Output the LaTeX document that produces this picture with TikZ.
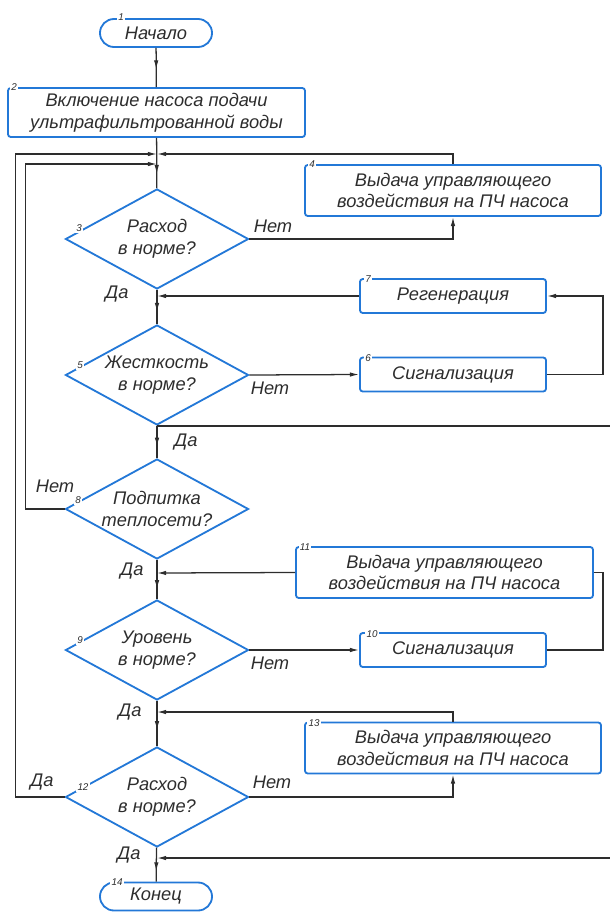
\documentclass[tikz,border=0pt]{standalone}
\usepackage{fontspec}
\setmainfont{Liberation Sans}
\usetikzlibrary{arrows.meta,shapes.geometric,decorations.markings}
\definecolor{blockblue}{RGB}{35,120,215}
\definecolor{inkgray}{RGB}{45,45,45}

\begin{document}
\begin{tikzpicture}[
  x=0.025cm, y=-0.025cm,
  >={Latex[length=6.5pt,width=3.2pt]},
  every node/.style={font=\itshape\fontsize{13}{15.5}\selectfont, text=inkgray},
  line/.style={draw=inkgray, line width=0.9pt},
  block/.style={draw=blockblue, line width=1.3pt, rounded corners=2pt,
                align=center, inner sep=0pt},
  wide/.style={block, minimum width=7.4cm, minimum height=1.275cm},
  short/.style={block, minimum width=4.65cm, minimum height=0.85cm},
  term/.style={draw=blockblue, line width=1.3pt, rounded corners=0.35cm,
               minimum width=2.8cm, minimum height=0.7cm, inner sep=0pt},
  decision/.style={diamond, draw=blockblue, line width=1.3pt, shape aspect=1.8,
                   minimum width=4.575cm, minimum height=2.5cm,
                   inner sep=0pt, align=center},
  num/.style={font=\itshape\fontsize{7}{8}\selectfont, fill=white, inner sep=0.8pt},
  midarrow/.style={postaction={decorate},
                   decoration={markings, mark=at position #1 with {\arrow{>}}}},
  midarrow/.default=0.5,
]
  \useasboundingbox (0,0) rectangle (610,913);

  % Main column
  \node[term] (start) at (156,33) {Начало};
  \node[block, minimum width=7.425cm, minimum height=1.225cm] (pump)
    at (156.5,112.5) {Включение насоса подачи\\ультрафильтрованной воды};
  \node[decision] (flow) at (157,239) {Расход\\в норме?};
  \node[decision] (hard) at (157,375) {Жесткость\\в норме?};
  \node[decision] (feed) at (157,509) {Подпитка\\теплосети?};
  \node[decision] (level) at (157,650) {Уровень\\в норме?};
  \node[decision] (flowb) at (157,797) {Расход\\в норме?};
  \node[term] (stop) at (156,896.5) {Конец};

  % Side blocks
  \node[wide] (ctrla) at (453,190.5) {Выдача управляющего\\воздействия на ПЧ насоса};
  \node[short] (regen) at (453,296) {Регенерация};
  \node[short] (alarma) at (453,374.5) {Сигнализация};
  \node[wide, minimum width=7.425cm] (ctrlb) at (444.5,572.5)
    {Выдача управляющего\\воздействия на ПЧ насоса};
  \node[short] (alarmb) at (453,650) {Сигнализация};
  \node[wide] (ctrlc) at (453,748) {Выдача управляющего\\воздействия на ПЧ насоса};

  % Block numbers
  \node[num] (n1) at (121,17) {1};
  \node[num] (n2) at (14,87) {2};
  \node[num] (n3) at (79,228) {3};
  \node[num] (n4) at (312,164) {4};
  \node[num] (n5) at (80,365) {5};
  \node[num] (n6) at (368,358) {6};
  \node[num] (n7) at (368,279) {7};
  \node[num] (n8) at (78,500) {8};
  \node[num] (n9) at (80,640) {9};
  \node[num] (n10) at (372,634) {10};
  \node[num] (n11) at (305,547) {11};
  \node[num] (n12) at (83,787) {12};
  \node[num] (n13) at (314,723) {13};
  \node[num] (n14) at (117,882) {14};

  % Junctions on the main column
  \coordinate (jtop) at (157,154);
  \coordinate (jloop) at (157,164);
  \coordinate (jregen) at (157,296);
  \coordinate (jctrlb) at (157,573);
  \coordinate (jctrlc) at (157,712);
  \coordinate (jend) at (157,858);
  \coordinate (edgea) at (610,425);
  \coordinate (edgeb) at (610,858);

  % Connectors
  \draw[line, midarrow=0.55] (start) -- (pump);
  \draw[line, midarrow=0.72] (pump) -- (flow);
  \draw[line, midarrow=0.65] (flow) -- (hard);
  \draw[line, midarrow=0.65] (hard) -- (feed);
  \draw[line, midarrow=0.75] (feed) -- (level);
  \draw[line, midarrow=0.65] (level) -- (flowb);
  \draw[line, midarrow=0.7] (flowb) -- (stop);

  \draw[line, ->] (flow.east) -| (ctrla.south);
  \draw[line, ->] (ctrla.north) |- (jtop);
  \draw[line, ->] (hard.east) -- (alarma.west);
  \draw[line, ->] (alarma.east) -- ++(56,0) |- (regen.east);
  \draw[line, ->] (regen.west) -- (jregen);
  \draw[line] (hard.south) -- (hard.south -| edgea) -- (edgea);
  \draw[line, ->] (feed.west) -- ++(-39,0) |- (jloop);
  \draw[line, ->] (level.east) -- (alarmb.west);
  \draw[line] (alarmb.east) -- ++(56,0) |- (ctrlb.east);
  \draw[line, ->] (ctrlb.west) -- (jctrlb);
  \draw[line, ->] (flowb.east) -| (ctrlc.south);
  \draw[line, ->] (ctrlc.north) |- (jctrlc);
  \draw[line, ->] (flowb.west) -- ++(-49,0) |- (jtop);
  \draw[line, ->] (edgeb) -- (jend);

  % Branch labels
  \node (no3) at (273,226) {Нет};
  \node (yes3) at (117,294) {Да};
  \node (no5) at (270,388) {Нет};
  \node (yes5) at (186,442) {Да};
  \node (no8) at (55,486) {Нет};
  \node (yes8) at (132,571) {Да};
  \node (no9) at (270,663) {Нет};
  \node (yes9) at (130,712) {Да};
  \node (yes12l) at (42,782) {Да};
  \node (no12) at (272,782) {Нет};
  \node (yes12) at (129,855) {Да};
\end{tikzpicture}
\end{document}
